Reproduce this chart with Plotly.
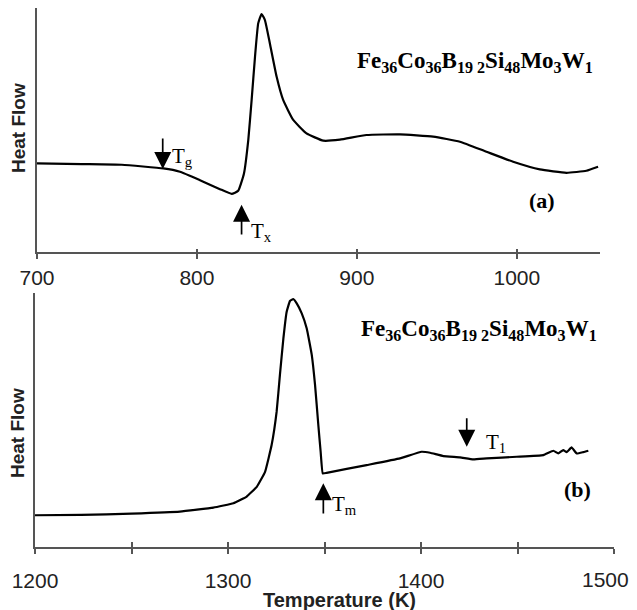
import plotly.graph_objects as go

# ---- Panel (a): DSC trace, 700-1052 K ----
temp_a = [700, 728, 753, 779, 789.4, 801.9, 814.4, 821.7, 825.8, 829.4, 832.1, 834.2, 836.3, 838.3,
          840.4, 842.5, 845.6, 849.8, 853.9, 860.2, 868.5, 879, 889.4, 906, 926.9, 947.7, 964.4,
          981, 997.7, 1014.4, 1031, 1043.5, 1050.8]
hf_a = [2.65, 2.63, 2.61, 2.50, 2.40, 2.15, 1.88, 1.74, 1.83, 2.35, 3.35, 4.55, 5.84, 6.84,
        7.12, 6.94, 6.24, 5.25, 4.55, 3.95, 3.55, 3.33, 3.36, 3.50, 3.52, 3.45, 3.30,
        3.00, 2.70, 2.47, 2.37, 2.43, 2.55]

# ---- Panel (b): DSC trace, 1200-1487 K ----
temp_b = [1200, 1224, 1250, 1275.1, 1292.4, 1302.8, 1309.7, 1314.9, 1319.2, 1322.6, 1325.2, 1326.9,
          1328.7, 1330.4, 1332.1, 1333.8, 1335.6, 1338.2, 1340.8, 1343.4, 1345.1, 1346.8, 1348.0,
          1349.1, 1351.1, 1371.8, 1389.1, 1400.3, 1404.7, 1411.6, 1420.2, 1427.1, 1434, 1449.6,
          1463.4, 1468.6, 1471.1, 1473.7, 1475.5, 1478, 1480.7, 1484.1, 1486.7]
hf_b = [0.95, 0.96, 1.00, 1.06, 1.18, 1.31, 1.51, 1.80, 2.25, 3.05, 4.05, 5.15,
        6.24, 7.04, 7.36, 7.42, 7.29, 6.99, 6.54, 5.75, 4.85, 3.65, 2.85,
        2.20, 2.22, 2.45, 2.65, 2.85, 2.82, 2.72, 2.68, 2.62, 2.65, 2.70,
        2.75, 2.88, 2.80, 2.90, 2.84, 2.98, 2.80, 2.84, 2.88]

ticks_a = [700, 800, 900, 1000]
ticks_b = [1200, 1250, 1300, 1350, 1400, 1450, 1500]
ticklabels_b = ["1200", "", "1300", "", "1400", "", ""]
last_label_b = "1500"  # drawn kept inside the chart edge, as in the original

formula = "<b>Fe<sub>36</sub>Co<sub>36</sub>B<sub>19 2</sub>Si<sub>48</sub>Mo<sub>3</sub>W<sub>1</sub></b>"

W, H = 637, 610
OFF = 8  # page body margin offset


def px(x):
    return (x - OFF) / W


def py(y):
    return (H - (y - OFF)) / H


fig = go.Figure()
fig.add_trace(go.Scatter(x=temp_a, y=hf_a, mode="lines",
                         line=dict(color="black", width=2.2, shape="spline", smoothing=0.4),
                         xaxis="x", yaxis="y", showlegend=False, hoverinfo="skip"))
fig.add_trace(go.Scatter(x=temp_b, y=hf_b, mode="lines",
                         line=dict(color="black", width=2.2, shape="spline", smoothing=0.3),
                         xaxis="x2", yaxis="y2", showlegend=False, hoverinfo="skip"))

axis_col = "#555555"
tick_font = dict(family="Liberation Sans, Arial, sans-serif", size=21, color="#222222")

common_x = dict(showline=True, linecolor=axis_col, linewidth=2, showgrid=False, zeroline=False,
                automargin=False, tickfont=tick_font, ticks="outside", ticklen=5,
                tickcolor=axis_col, tickwidth=1.5)
common_y = dict(showline=True, linecolor=axis_col, linewidth=2, showgrid=False, zeroline=False,
                automargin=False, showticklabels=False, ticks="")

fig.update_layout(
    width=W, height=H, autosize=False,
    margin=dict(l=0, r=0, t=0, b=0, pad=0),
    paper_bgcolor="white", plot_bgcolor="white",
    xaxis=dict(domain=[px(37), px(600)], range=[700, 1052], anchor="y",
               tickvals=ticks_a, ticklabelstandoff=1, **common_x),
    yaxis=dict(domain=[py(252), py(8)], range=[0, 7.3], anchor="x", **common_y),
    xaxis2=dict(domain=[px(35), px(614)], range=[1200, 1500], anchor="y2",
                tickvals=ticks_b, ticktext=ticklabels_b, ticklabelstandoff=9, **common_x),
    yaxis2=dict(domain=[py(547), py(293)], range=[0, 7.6], anchor="x2", **common_y),
    # overlay axes to draw the inward half of the crossing tick marks
    xaxis3=dict(overlaying="x", matches="x", anchor="y", tickvals=ticks_a[1:], ticks="inside",
                ticklen=3, tickcolor=axis_col, tickwidth=1.5, showticklabels=False,
                showline=False, showgrid=False, zeroline=False, automargin=False),
    xaxis4=dict(overlaying="x2", matches="x2", anchor="y2", tickvals=ticks_b, ticks="inside",
                ticklen=5, tickcolor=axis_col, tickwidth=1.5, showticklabels=False,
                showline=False, showgrid=False, zeroline=False, automargin=False),
)
# invisible traces binding overlay axes
fig.add_trace(go.Scatter(x=[700], y=[0], mode="markers", marker=dict(opacity=0), xaxis="x3", yaxis="y",
                         showlegend=False, hoverinfo="skip"))
fig.add_trace(go.Scatter(x=[1200], y=[0], mode="markers", marker=dict(opacity=0), xaxis="x4", yaxis="y2",
                         showlegend=False, hoverinfo="skip"))

serif = "Liberation Serif, Times New Roman, serif"
annos = []
# formulas
annos.append(dict(x=973.75, y=5.69, xref="x", yref="y", text=formula, showarrow=False,
                  font=dict(family=serif, size=23, color="black"), xanchor="center", yanchor="middle"))
annos.append(dict(x=1430, y=6.49, xref="x2", yref="y2", text=formula, showarrow=False,
                  font=dict(family=serif, size=23, color="black"), xanchor="center", yanchor="middle"))
# panel labels
annos.append(dict(x=1016, y=1.55, xref="x", yref="y", text="<b>(a)</b>", showarrow=False,
                  font=dict(family=serif, size=22, color="black")))
annos.append(dict(x=1481.3, y=1.71, xref="x2", yref="y2", text="<b>(b)</b>", showarrow=False,
                  font=dict(family=serif, size=22, color="black")))
# arrows
arrow_style = dict(showarrow=True, arrowhead=2, arrowsize=2.0, arrowwidth=1.7, arrowcolor="black", text="")
annos.append(dict(x=778.6, y=2.48, ax=778.6, ay=3.44, xref="x", yref="y", axref="x", ayref="y", **arrow_style))
annos.append(dict(x=827.9, y=1.41, ax=827.9, ay=0.48, xref="x", yref="y", axref="x", ayref="y", **arrow_style))
annos.append(dict(x=1349.4, y=1.91, ax=1349.4, ay=0.96, xref="x2", yref="y2", axref="x2", ayref="y2", **arrow_style))
annos.append(dict(x=1423.7, y=3.00, ax=1423.7, ay=3.90, xref="x2", yref="y2", axref="x2", ayref="y2", **arrow_style))
# arrow labels
lab_font = dict(family=serif, size=21, color="black")
annos.append(dict(x=791, y=2.85, xref="x", yref="y", text="T<sub>g</sub>", showarrow=False, font=lab_font))
annos.append(dict(x=840.6, y=0.60, xref="x", yref="y", text="T<sub>x</sub>", showarrow=False, font=lab_font))
annos.append(dict(x=1360.6, y=1.25, xref="x2", yref="y2", text="T<sub>m</sub>", showarrow=False, font=lab_font))
annos.append(dict(x=1438.9, y=3.10, xref="x2", yref="y2", text="T<sub>1</sub>", showarrow=False, font=lab_font))
# last bottom tick label, nudged inside the right edge
annos.append(dict(x=ticks_b[-1], y=py(579), xref="x2", yref="paper", text=last_label_b, showarrow=False,
                  xanchor="center", yanchor="middle", xshift=-9, font=tick_font))
# axis titles
sans_b = dict(family="Liberation Sans, Arial, sans-serif", size=19, color="#222222")
annos.append(dict(x=px(18), y=py(128), xref="paper", yref="paper", text="<b>Heat Flow</b>", textangle=-90,
                  showarrow=False, font=sans_b, xanchor="center", yanchor="middle"))
annos.append(dict(x=px(17), y=py(433), xref="paper", yref="paper", text="<b>Heat Flow</b>", textangle=-90,
                  showarrow=False, font=sans_b, xanchor="center", yanchor="middle"))
annos.append(dict(x=px(339), y=py(600), xref="paper", yref="paper", text="<b>Temperature (K)</b>",
                  showarrow=False, xanchor="center", yanchor="middle",
                  font=dict(family="Liberation Sans, Arial, sans-serif", size=20, color="#222222")))
fig.update_layout(annotations=annos)

fig.write_html("out.html")
